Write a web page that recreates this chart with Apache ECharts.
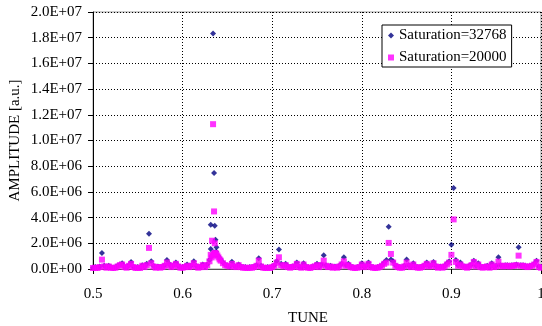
<!DOCTYPE html>
<html><head><meta charset="utf-8">
<script src="https://cdn.jsdelivr.net/npm/echarts@6/dist/echarts.min.js"></script>
<style>html,body{margin:0;padding:0;background:#fff}#c{width:542px;height:326px}</style>
</head><body><div id="c"></div>
<script>
var tune = [
0.5,0.5025,0.505,0.5075,0.51,0.5125,0.515,0.5175,0.52,0.5225,0.525,0.5275,0.53,0.5325,0.535,0.5375,0.54,0.5425,0.545,0.5475,
0.55,0.5525,0.555,0.5575,0.56,0.5625,0.565,0.5675,0.57,0.5725,0.575,0.5775,0.58,0.5825,0.585,0.5875,0.59,0.5925,0.595,0.5975,
0.6,0.6025,0.605,0.6075,0.61,0.6125,0.615,0.6175,0.62,0.6225,0.625,0.6275,0.63,0.6325,0.635,0.6375,0.64,0.6425,0.645,0.6475,
0.65,0.6525,0.655,0.6575,0.66,0.6625,0.665,0.6675,0.67,0.6725,0.675,0.6775,0.68,0.6825,0.685,0.6875,0.69,0.6925,0.695,0.6975,
0.7,0.7025,0.705,0.7075,0.71,0.7125,0.715,0.7175,0.72,0.7225,0.725,0.7275,0.73,0.7325,0.735,0.7375,0.74,0.7425,0.745,0.7475,
0.75,0.7525,0.755,0.7575,0.76,0.7625,0.765,0.7675,0.77,0.7725,0.775,0.7775,0.78,0.7825,0.785,0.7875,0.79,0.7925,0.795,0.7975,
0.8,0.8025,0.805,0.8075,0.81,0.8125,0.815,0.8175,0.82,0.8225,0.825,0.8275,0.83,0.8325,0.835,0.8375,0.84,0.8425,0.845,0.8475,
0.85,0.8525,0.855,0.8575,0.86,0.8625,0.865,0.8675,0.87,0.8725,0.875,0.8775,0.88,0.8825,0.885,0.8875,0.89,0.8925,0.895,0.8975,
0.9,0.9025,0.905,0.9075,0.91,0.9125,0.915,0.9175,0.92,0.9225,0.925,0.9275,0.93,0.9325,0.935,0.9375,0.94,0.9425,0.945,0.9475,
0.95,0.9525,0.955,0.9575,0.96,0.9625,0.965,0.9675,0.97,0.9725,0.975,0.9775,0.98,0.9825,0.985,0.9875,0.99,0.9925,0.995,0.9975,
1.0];

var amp32768 = [
1e5,1.5e5,1e5,2e5, 12.5e5,2.5e5,1.5e5,2.5e5, 1.5e5,1e5,1.5e5,2.5e5, 3.5e5,4.5e5,2e5,1.5e5, 3e5,5.5e5,2e5,1e5,
1.5e5,1e5,3e5,2e5, 4e5,27.4e5,6e5,2.5e5, 1.5e5,2e5,1.5e5,2e5, 3e5,7e5,4e5,2e5, 3e5,5e5,2.5e5,1.5e5,
1.5e5,2e5,3.5e5,2e5, 3e5,6e5,2.5e5,1.5e5, 2e5,3.5e5,2e5,3.5e5, 7e5,10e5,13e5,13.5e5, 10e5,7.5e5,5e5,3.5e5,
2.5e5,2e5,5.7e5,2.5e5, 2e5,3.5e5,2e5,1.5e5, 1.5e5,1e5,1.5e5,1.5e5, 2e5,3e5,8.3e5,2.5e5, 1.5e5,1e5,1.5e5,1e5,
2e5,3e5,6e5,15.1e5, 4e5,2.5e5,4e5,2e5, 1.5e5,2e5,2.5e5,5e5, 2e5,1.5e5,4.5e5,2e5, 1.5e5,1e5,2e5,2.5e5,
4e5,2e5,3.5e5,10.7e5, 3e5,2e5,2.5e5,1.5e5, 2e5,1.5e5,2.5e5,4e5, 9.2e5,3e5,4e5,2e5, 1.5e5,1e5,1.5e5,2e5,
4.5e5,2e5,2.5e5,5e5, 2e5,1.5e5,1e5,1.5e5, 2e5,3e5,5e5,7e5, 32.9e5,7.3e5,6e5,3e5, 2e5,1.5e5,1.5e5,2.5e5,
7.3e5,3e5,2e5,4.5e5, 2e5,1.5e5,1.5e5,2e5, 3e5,5e5,2.5e5,3e5, 5.5e5,2.5e5,1.5e5,2e5, 1.5e5,2.5e5,4.5e5,6e5,
18.8e5,63e5,7e5,3e5, 5e5,2.5e5,2e5,1.5e5, 2.5e5,3.5e5,6.5e5,2.5e5, 4.5e5,2e5,1.5e5,2e5, 2.5e5,1.5e5,4.5e5,2e5,
2.5e5,9.1e5,3e5,2.5e5, 3e5,3e5,2.5e5,3e5, 3e5,3.5e5,16.9e5,3e5, 3e5,2.5e5,2e5,2.5e5, 3e5,4e5,6.5e5,2e5,
1.5e5];

var amp20000 = [
0.8e5,1e5,0.8e5,1.5e5, 7.3e5,2e5,1e5,2e5, 1e5,0.8e5,1e5,2e5, 3e5,3.5e5,1.5e5,1e5, 2.5e5,4e5,1.5e5,0.8e5,
1e5,0.8e5,2.5e5,1.5e5, 3e5,16.4e5,4.5e5,2e5, 1e5,1.5e5,1e5,1.5e5, 2.5e5,5e5,3e5,1.5e5, 2.5e5,4e5,2e5,1e5,
1e5,1.5e5,2.5e5,1.5e5, 2.5e5,4.5e5,2e5,1e5, 1.5e5,3e5,1.5e5,3e5, 6e5,9e5,12e5,12e5, 9e5,6.5e5,4.5e5,3e5,
2.5e5,2e5,4e5,2e5, 1.5e5,3e5,1.5e5,1e5, 1e5,0.8e5,1e5,1e5, 1.5e5,2.5e5,6.5e5,2e5, 1e5,0.8e5,1e5,0.8e5,
1.5e5,2.5e5,5e5,9.1e5, 3e5,2e5,3e5,1.5e5, 1e5,1.5e5,2e5,4e5, 1.5e5,1e5,3.5e5,1.5e5, 1e5,0.8e5,1.5e5,2e5,
3e5,1.5e5,3e5,6.5e5, 2.5e5,1.5e5,2e5,1e5, 1.5e5,1e5,2e5,3.5e5, 6e5,2.5e5,3e5,1.5e5, 1e5,0.8e5,1e5,1.5e5,
3.5e5,1.5e5,2e5,4e5, 1.5e5,1e5,0.8e5,1e5, 1.5e5,2.5e5,4e5,5e5, 20.3e5,11.7e5,5e5,2.5e5, 1.5e5,1e5,1e5,2e5,
5e5,2.5e5,1.5e5,3.5e5, 1.5e5,1e5,1e5,1.5e5, 2.5e5,4e5,2e5,2.5e5, 4.5e5,2e5,1e5,1.5e5, 1e5,2e5,3.5e5,5e5,
11e5,38.6e5,5.5e5,2.5e5, 3.5e5,2e5,1.5e5,1e5, 2e5,3e5,5.5e5,2e5, 3.5e5,1.5e5,1e5,1.5e5, 2e5,1e5,3.5e5,1.5e5,
2e5,5.7e5,2.5e5,2e5, 2.5e5,2.5e5,2e5,2.5e5, 2.5e5,3e5,10.4e5,2.5e5, 2.5e5,2e5,1.5e5,2e5, 2.5e5,3.5e5,5.5e5,1.5e5,
1e5];

// extra points of the main resonance near 0.634
var peakTune32768 = [0.6314, 0.6314, 0.6340, 0.6351, 0.6359, 0.6367, 0.6367, 0.6378];
var peakAmp32768  = [3.44e6, 1.56e6, 18.33e6, 7.48e6, 3.36e6, 2.27e6, 1.1e6, 1.69e6];
var peakTune20000 = [0.6314, 0.6329, 0.6338, 0.6340, 0.6351, 0.6359, 0.6363, 0.6388, 0.6413];
var peakAmp20000  = [1.1e6, 2.2e6, 1.05e6, 11.27e6, 4.48e6, 2.0e6, 1.25e6, 1.05e6, 0.75e6];

var seriesNames = ['Saturation=32768', 'Saturation=20000'];

function pairs(xs, ys) { var out = []; for (var i = 0; i < xs.length; i++) out.push([xs[i], ys[i]]); return out; }
var d1 = pairs(tune, amp32768).concat(pairs(peakTune32768, peakAmp32768));
var d2 = pairs(tune, amp20000).concat(pairs(peakTune20000, peakAmp20000));

function sci(v) {
  var s = Number(v).toExponential(1);
  var p = s.split('e');
  var sign = p[1].charAt(0);
  var ex = p[1].slice(1);
  if (ex.length < 2) ex = '0' + ex;
  return p[0] + 'E' + sign + ex;
}

var FONT = "'Liberation Serif', 'Times New Roman', serif";
var FS = 15;
var chart = echarts.init(document.getElementById('c'), null, {renderer: 'canvas'});
chart.setOption({
  animation: false,
  backgroundColor: '#fff',
  textStyle: {fontFamily: FONT},
  grid: {left: 93, right: 1, top: 12, bottom: 57, containLabel: false, outerBoundsMode: 'none',
         show: true, borderColor: '#9a9a9a', borderWidth: 1, backgroundColor: 'transparent'},
  legend: {
    orient: 'vertical', left: 382, top: 25,
    backgroundColor: '#fff', borderColor: '#000', borderWidth: 1,
    padding: [3, 5, 2, 6], itemGap: 7, itemWidth: 6, itemHeight: 6,
    textStyle: {fontFamily: FONT, fontSize: FS, color: '#000'},
    data: [{name: seriesNames[0], icon: 'diamond'}, {name: seriesNames[1], icon: 'rect'}]
  },
  xAxis: {
    type: 'value', min: 0.5, max: 1, interval: 0.1,
    name: 'TUNE', nameLocation: 'middle', nameGap: 42,
    nameTextStyle: {fontFamily: FONT, fontSize: FS, color: '#000', padding: [0, 18, 0, 0]},
    axisLine: {show: true, onZero: false, lineStyle: {color: '#555', width: 1}},
    axisTick: {show: true, inside: false, length: 5, lineStyle: {color: '#000'}},
    axisLabel: {fontFamily: FONT, fontSize: FS, color: '#000', margin: 18,
      formatter: function (v) { return String(+v.toFixed(1)); }},
    splitLine: {show: true, lineStyle: {color: '#000', type: [1, 2], width: 1}}
  },
  yAxis: {
    type: 'value', min: 0, max: 2e7, interval: 2e6,
    name: 'AMPLITUDE [a.u.]', nameLocation: 'middle', nameGap: 70, nameRotate: 90,
    nameMoveOverlap: false,
    nameTextStyle: {fontFamily: FONT, fontSize: FS, color: '#000'},
    axisLine: {show: true, lineStyle: {color: '#000', width: 1}},
    axisTick: {show: true, inside: false, length: 5, lineStyle: {color: '#000'}},
    axisLabel: {fontFamily: FONT, fontSize: FS, color: '#000', margin: 11, formatter: sci},
    splitLine: {show: true, lineStyle: {color: '#000', type: [1, 2], width: 1}}
  },
  series: [
    {name: seriesNames[0], type: 'scatter', symbol: 'diamond', symbolSize: 6,
     itemStyle: {color: '#000080'}, data: d1, z: 3},
    {name: seriesNames[1], type: 'scatter', symbol: 'rect', symbolSize: 6,
     itemStyle: {color: '#ff00ff'}, data: d2, z: 4}
  ]
});
</script>
</body></html>
